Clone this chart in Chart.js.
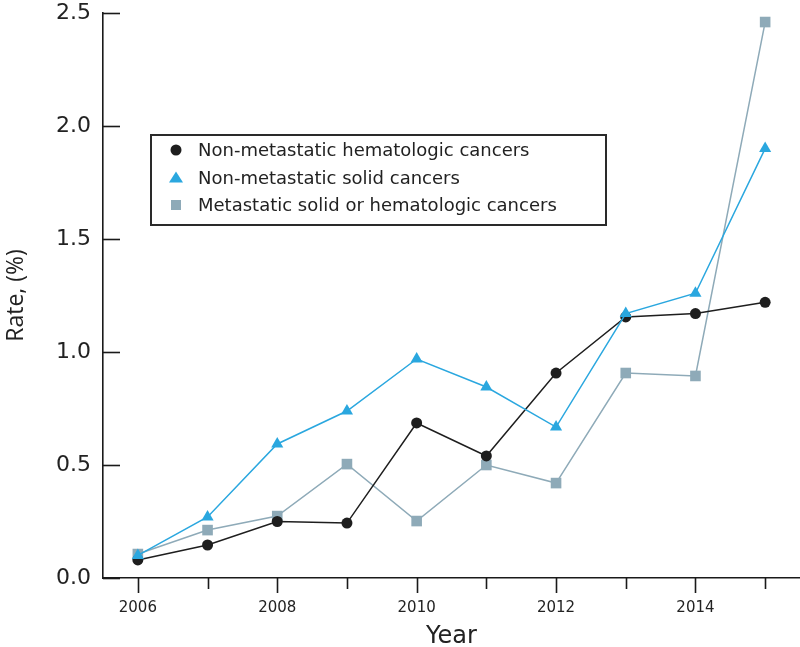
<!DOCTYPE html>
<html>
<head>
<meta charset="utf-8">
<script src="https://cdn.jsdelivr.net/npm/chart.js@4.4.1/dist/chart.umd.min.js"></script>
<style>
  html, body { margin: 0; padding: 0; background: #fff; }
  #wrap { position: relative; width: 800px; height: 647px; }
  #legend {
    position: absolute; left: 150px; top: 134px; width: 453px; height: 88px;
    border: 2px solid #2a2a2a; font-family: "DejaVu Sans", sans-serif; font-size: 18px;
    color: #222; box-sizing: content-box;
  }
  .row { height: 27.5px; line-height: 27.5px; white-space: nowrap; position: relative; }
  .mk { position: absolute; left: 24px; top: 50%; transform: translate(-50%, -50%); }
  .txt { position: absolute; left: 46px; }
</style>
</head>
<body>
<div id="wrap">
  <canvas id="chart" width="800" height="647"></canvas>
  <div id="legend"></div>
</div>
<script>
let years = [2006, 2007, 2008, 2009, 2010, 2011, 2012, 2013, 2014, 2015];
let hemato = [0.08, 0.146, 0.25, 0.243, 0.686, 0.54, 0.907, 1.155, 1.17, 1.22];
let solid = [0.10, 0.27, 0.593, 0.739, 0.969, 0.845, 0.668, 1.17, 1.26, 1.90];
let metast = [0.106, 0.212, 0.274, 0.504, 0.252, 0.50, 0.42, 0.907, 0.894, 2.46];
let noms = ["Non-metastatic hematologic cancers", "Non-metastatic solid cancers", "Metastatic solid or hematologic cancers"];
let yTicks = [0, 0.5, 1.0, 1.5, 2.0, 2.5];

let couleurs = ['#1e1e1e', '#2aa7df', '#8eaab8'];
let formes = ['circle', 'triangle', 'rect'];

function pts(arr) {
    return years.map((y, i) => ({ x: y, y: arr[i] }));
}

// ticks dessines a la main : vers l'interieur pour y, longs/courts pour x
const ticksPlugin = {
    id: 'ticksPlugin',
    afterDraw(chart) {
        const ctx = chart.ctx;
        const area = chart.chartArea;
        const sy = chart.scales.y;
        const sx = chart.scales.x;
        ctx.save();
        ctx.strokeStyle = '#1a1a1a';
        ctx.lineWidth = 1.6;
        yTicks.forEach(v => {
            let py = Math.round(sy.getPixelForValue(v)) + 0.5;
            ctx.beginPath();
            ctx.moveTo(area.left, py);
            ctx.lineTo(area.left + 17, py);
            ctx.stroke();
        });
        years.forEach(yr => {
            let px = Math.round(sx.getPixelForValue(yr)) + 0.5;
            let len = yr % 2 == 0 ? 15 : 11;
            ctx.beginPath();
            ctx.moveTo(px, area.bottom);
            ctx.lineTo(px, area.bottom + len);
            ctx.stroke();
        });
        ctx.restore();
    }
};

let ordres = [2, 1, 3];
let series = [hemato, solid, metast];

new Chart(document.getElementById('chart'), {
    type: 'line',
    data: {
        datasets: series.map((s, i) => ({
            label: noms[i],
            data: pts(s),
            borderColor: couleurs[i],
            backgroundColor: couleurs[i],
            pointBackgroundColor: couleurs[i],
            pointBorderColor: couleurs[i],
            pointBorderWidth: 0,
            pointStyle: formes[i],
            pointRadius: [5.5, 7, 7.5][i],
            borderWidth: 1.5,
            tension: 0,
            clip: false,
            order: ordres[i]
        }))
    },
    options: {
        responsive: false,
        animation: false,
        layout: { autoPadding: false, padding: { top: 13, right: 0, left: 0, bottom: 0 } },
        plugins: { legend: { display: false }, tooltip: { enabled: false } },
        scales: {
            x: {
                type: 'linear',
                min: 2005.5,
                max: 2015.5,
                afterBuildTicks: axis => { axis.ticks = years.map(v => ({ value: v })); },
                afterFit: axis => {
                    axis.height = 69;
                    axis.paddingLeft = 0;
                    axis.paddingRight = 0;
                },
                grid: { display: false, drawTicks: false },
                border: { display: true, color: '#1a1a1a', width: 1.6 },
                ticks: {
                    padding: 21,
                    autoSkip: false,
                    maxRotation: 0,
                    color: '#222',
                    font: { family: 'DejaVu Sans', size: 15 },
                    callback: v => (v % 2 == 0 ? String(v) : '')
                },
                title: {
                    display: true,
                    text: 'Year',
                    color: '#222',
                    font: { family: 'DejaVu Sans', size: 24 },
                    padding: { top: -4, bottom: -4 }
                }
            },
            y: {
                min: 0,
                max: 2.5,
                afterBuildTicks: axis => { axis.ticks = yTicks.map(v => ({ value: v })); },
                afterFit: axis => {
                    axis.width = 103;
                    axis.paddingTop = 0;
                    axis.paddingBottom = 0;
                },
                grid: { display: false, drawTicks: false },
                border: { display: true, color: '#1a1a1a', width: 1.6 },
                ticks: {
                    padding: 12,
                    color: '#222',
                    font: { family: 'DejaVu Sans', size: 22 },
                    callback: v => v.toFixed(1)
                },
                title: {
                    display: true,
                    text: 'Rate, (%)',
                    color: '#222',
                    font: { family: 'Open Sans', size: 23 },
                    padding: { top: 3, bottom: 0 }
                }
            }
        }
    },
    plugins: [ticksPlugin]
});

// legende en HTML
let legende = document.getElementById('legend');
noms.forEach((nom, i) => {
    let row = document.createElement('div');
    row.className = 'row';
    let mk = document.createElement('span');
    mk.className = 'mk';
    if (formes[i] == 'circle') {
        mk.style.cssText += 'width:11px;height:11px;border-radius:50%;background:' + couleurs[i];
    } else if (formes[i] == 'triangle') {
        mk.style.cssText += 'width:0;height:0;border-left:7px solid transparent;border-right:7px solid transparent;border-bottom:11px solid ' + couleurs[i];
    } else {
        mk.style.cssText += 'width:10px;height:10px;background:' + couleurs[i];
    }
    let txt = document.createElement('span');
    txt.className = 'txt';
    txt.textContent = nom;
    row.appendChild(mk);
    row.appendChild(txt);
    legende.appendChild(row);
});
</script>
</body>
</html>
